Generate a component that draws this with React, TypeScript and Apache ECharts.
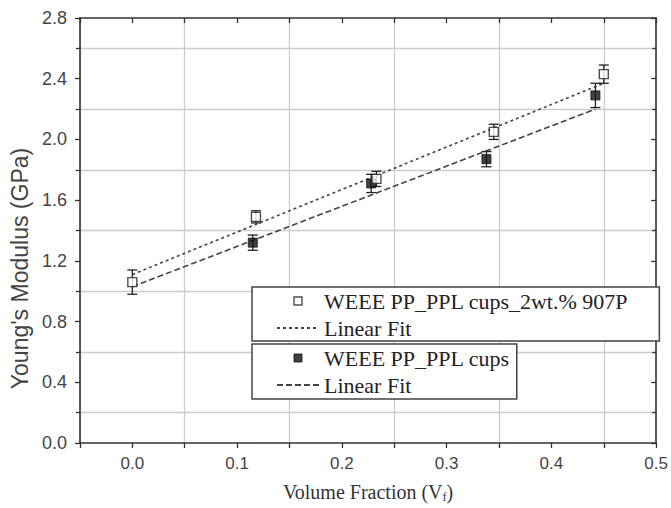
import React, { useEffect, useRef } from "react";
import * as echarts from "echarts";

// ---- data ----
const nameA = "WEEE PP_PPL cups_2wt.% 907P";
const nameB = "WEEE PP_PPL cups";
const xA = [0, 0.118, 0.233, 0.345, 0.45];
const yA = [1.06, 1.49, 1.74, 2.05, 2.43];
const errA = [0.08, 0.04, 0.05, 0.05, 0.06];
const xB = [0.115, 0.228, 0.338, 0.442];
const yB = [1.32, 1.71, 1.87, 2.29];
const errB = [0.05, 0.06, 0.05, 0.08];
const fitAx = [0, 0.45];
const fitAy = [1.11, 2.37];
const fitBx = [0, 0.442];
const fitBy = [1.03, 2.2];

const pts = (xs: number[], ys: number[]) => xs.map((x, i) => [x, ys[i]]);
const bars = (xs: number[], ys: number[], es: number[]) =>
  xs.map((x, i) => [x, ys[i] - es[i], ys[i] + es[i]]);

const errRender = (params: any, api: any) => {
  const x = api.value(0);
  const p1 = api.coord([x, api.value(1)]);
  const p2 = api.coord([x, api.value(2)]);
  const w = 5;
  const st = { stroke: "#222", lineWidth: 1.3 };
  return {
    type: "group",
    children: [
      { type: "line", shape: { x1: p1[0], y1: p1[1], x2: p2[0], y2: p2[1] }, style: st },
      { type: "line", shape: { x1: p1[0] - w, y1: p1[1], x2: p1[0] + w, y2: p1[1] }, style: st },
      { type: "line", shape: { x1: p2[0] - w, y1: p2[1], x2: p2[0] + w, y2: p2[1] }, style: st },
    ],
  };
};

const isTenth = (v: number) => Math.abs(v * 10 - Math.round(v * 10)) < 1e-6;
const SANS = "Liberation Sans";
const SERIF = "Liberation Serif";

export default function App() {
  const ref = useRef<HTMLDivElement>(null);
  useEffect(() => {
    const chart = echarts.init(ref.current!, null, { renderer: "svg" });
    const axisLine = { show: true, onZero: false, lineStyle: { color: "#333", width: 1.6 } };
    const fmt = (n: string) => (n.indexOf("Linear Fit") === 0 ? "Linear Fit" : n);
    const sq = "path://M0 0H10V10H0Z";
    const noSym = { color: "transparent", borderColor: "transparent", borderWidth: 0, opacity: 0 };
    const legendText = { fontFamily: SERIF, fontSize: 22, color: "#222" };
    chart.setOption({
      animation: false,
      backgroundColor: "#fff",
      grid: { left: 76, right: 12, top: 18, bottom: 64 },
      xAxis: [
        {
          type: "value",
          min: -0.05,
          max: 0.5,
          interval: 0.05,
          axisLine,
          axisTick: { show: true, length: 5, lineStyle: { color: "#333", width: 1.3 } },
          axisLabel: {
            margin: 12,
            fontFamily: SANS,
            fontSize: 17,
            color: "#444",
            formatter: (v: number) => (v >= 0 && isTenth(v) ? v.toFixed(1) : ""),
          },
          splitLine: {
            show: true,
            showMinLine: true,
            showMaxLine: true,
            lineStyle: { color: ["#cccccc", "transparent"], width: 1.3 },
          },
          name: "Volume Fraction (V{sub|f})",
          nameLocation: "middle",
          nameGap: 38,
          nameTextStyle: {
            fontFamily: SERIF,
            fontSize: 20,
            color: "#333",
            rich: { sub: { fontFamily: SERIF, fontSize: 12, color: "#333", verticalAlign: "bottom", padding: [10, 0, 0, 0] } },
          },
        },
        {
          type: "value",
          position: "top",
          min: -0.05,
          max: 0.5,
          interval: 0.05,
          axisLine,
          axisTick: { show: true, inside: true, length: 5, lineStyle: { color: "#333", width: 1.3 } },
          axisLabel: { show: false },
          splitLine: { show: false },
        },
      ],
      yAxis: [
        {
          type: "value",
          min: 0,
          max: 2.8,
          interval: 0.4,
          axisLine,
          axisTick: { show: true, length: 5, lineStyle: { color: "#333", width: 1.3 } },
          minorTick: { show: true, splitNumber: 2, length: 4, lineStyle: { color: "#333", width: 1.3 } },
          minorSplitLine: { show: true, lineStyle: { color: "#cccccc", width: 1.3 } },
          splitLine: { show: false },
          axisLabel: {
            margin: 13,
            fontFamily: SANS,
            fontSize: 18,
            color: "#444",
            formatter: (v: number) => v.toFixed(1),
          },
          name: "Young's Modulus (GPa)",
          nameLocation: "middle",
          nameGap: 46,
          nameTextStyle: { fontFamily: SANS, fontSize: 23, color: "#444", padding: [0, 76, 0, 0] },
        },
        {
          type: "value",
          position: "right",
          min: 0,
          max: 2.8,
          interval: 0.4,
          axisLine,
          axisTick: { show: true, inside: true, length: 5, lineStyle: { color: "#333", width: 1.3 } },
          minorTick: { show: true, splitNumber: 2, length: 4, lineStyle: { color: "#333", width: 1.3 } },
          axisLabel: { show: false },
          splitLine: { show: false },
        },
      ],
      legend: [
        {
          orient: "vertical",
          left: 252,
          top: 287,
          selectedMode: false,
          data: [
            { name: nameA, icon: sq, itemStyle: { color: "#fff", borderColor: "#222", borderWidth: 1.4 } },
            { name: "Linear Fit A", itemStyle: noSym },
          ],
          formatter: fmt,
          itemWidth: 42,
          itemHeight: 8,
          itemGap: 5,
          padding: [3, 31, 2, 24],
          borderColor: "#444",
          borderWidth: 1.5,
          backgroundColor: "#fff",
          textStyle: legendText,
        },
        {
          orient: "vertical",
          left: 252,
          top: 344,
          selectedMode: false,
          data: [
            { name: nameB, icon: sq, itemStyle: { color: "#111", borderColor: "#111", borderWidth: 1 } },
            { name: "Linear Fit B", itemStyle: noSym },
          ],
          formatter: fmt,
          itemWidth: 42,
          itemHeight: 8,
          itemGap: 5,
          padding: [3, 7, 3, 24],
          borderColor: "#444",
          borderWidth: 1.5,
          backgroundColor: "#fff",
          textStyle: legendText,
        },
      ],
      series: [
        {
          name: "Linear Fit A",
          type: "line",
          data: pts(fitAx, fitAy),
          symbol: "none",
          itemStyle: { color: "#444" },
          lineStyle: { color: "#444", width: 1.6, type: [3, 3] },
          z: 2,
        },
        {
          name: "Linear Fit B",
          type: "line",
          data: pts(fitBx, fitBy),
          symbol: "none",
          itemStyle: { color: "#444" },
          lineStyle: { color: "#444", width: 1.6, type: [6, 3] },
          z: 2,
        },
        { type: "custom", renderItem: errRender, data: bars(xA, yA, errA), z: 3, silent: true },
        { type: "custom", renderItem: errRender, data: bars(xB, yB, errB), z: 3, silent: true },
        {
          name: nameB,
          type: "scatter",
          data: pts(xB, yB),
          symbol: "rect",
          symbolSize: 9,
          itemStyle: { color: "#111", borderColor: "#111", borderWidth: 1 },
          z: 4,
        },
        {
          name: nameA,
          type: "scatter",
          data: pts(xA, yA),
          symbol: "rect",
          symbolSize: 9,
          itemStyle: { color: "#fff", borderColor: "#222", borderWidth: 1.4 },
          z: 5,
        },
      ],
    });
    return () => chart.dispose();
  }, []);
  return <div ref={ref} style={{ width: 671, height: 508, position: "absolute", left: 0, top: 0 }} />;
}
